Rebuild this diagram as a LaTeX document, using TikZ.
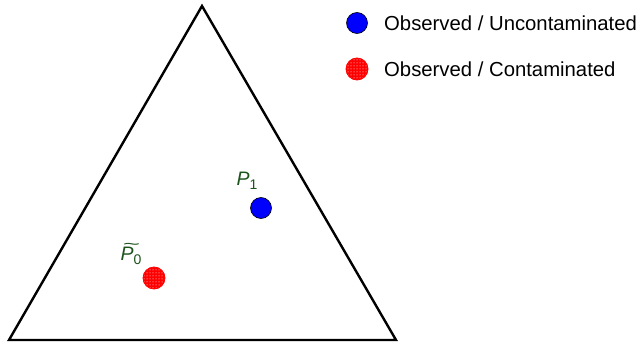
\documentclass[tikz,border=0pt]{standalone}
\usepackage{fontspec}
\setmainfont{Liberation Sans}
\usetikzlibrary{patterns}
\definecolor{lblgreen}{RGB}{28,84,28}
\tikzset{
  side/.style={draw=black, line width=2.4pt, line join=miter},
  uncont/.style={circle, draw=black, line width=0.6pt, fill=blue, minimum size=21pt, inner sep=0pt},
  cont/.style={circle, draw=red, line width=0.8pt, preaction={fill=red}, pattern=dots, pattern color=white, minimum size=22pt, inner sep=0pt},
  legtext/.style={anchor=west, inner sep=0pt, font=\fontsize{20.3}{22}\selectfont},
  ptlabel/.style={inner sep=0pt, text=lblgreen, font=\fontsize{19.5}{21}\selectfont\itshape}
}
\begin{document}
\begin{tikzpicture}[x=1pt, y=-1pt]
\useasboundingbox (0,0) rectangle (642,342);
\coordinate (apex) at (202,6);
\coordinate (bl) at (9,340);
\coordinate (br) at (396,340);
\draw[side] (apex) -- (br) -- (bl) -- cycle;
\node[uncont] (p1) at (261,208) {};
\node[cont] (p0) at (154,278) {};
\node[ptlabel] (l1) at (247,181) {P\raisebox{-0.35ex}{\fontsize{14}{15}\selectfont\upshape 1}};
\node[ptlabel] (l0) at (131,254) {\rlap{\hspace{0.1em}\raisebox{0.55em}{\scalebox{1.5}[0.8]{\char"007E}}}P\raisebox{-0.35ex}{\fontsize{14}{15}\selectfont\upshape 0}};
\node[uncont] (k1) at (357,23) {};
\node[cont] (k0) at (357,69) {};
\node[legtext] (t1) at (384,23) {Observed / Uncontaminated};
\node[legtext] (t0) at (384,69) {Observed / Contaminated};
\end{tikzpicture}
\end{document}
